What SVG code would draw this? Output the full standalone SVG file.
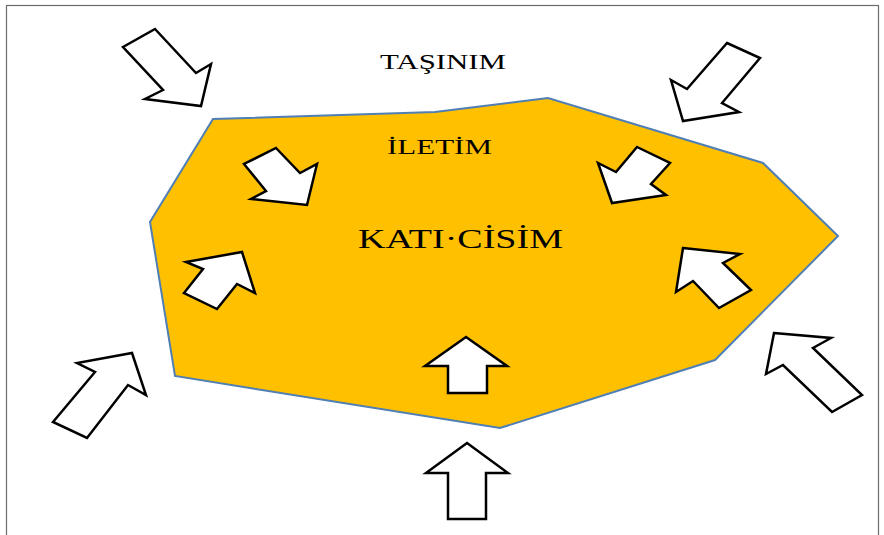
<svg xmlns="http://www.w3.org/2000/svg" width="884" height="535" viewBox="0 0 884 535">
<style>
.arr{fill:#ffffff;stroke:#000000;stroke-width:2.5;stroke-linejoin:miter}
.lbl{font-family:"Liberation Serif","Times New Roman",serif;fill:#000000}
</style>
<rect x="0" y="0" width="884" height="535" fill="#ffffff"/>
<rect x="6.5" y="5.5" width="872" height="540" fill="none" stroke="#6b6b6b" stroke-width="1.2"/>
<g id="solid">
<polygon points="213,119 435,112 548,98 763,163 838,236 715,360 500,428 175,376 150,222" fill="#ffc000" stroke="#4f7fb5" stroke-width="2"/>
</g>
<g id="connectors">
<g id="arrow-out-tl"><polygon class="arr" points="155,29 196,73 211,64 201,106 145,99 163,90 123,47"/></g>
<g id="arrow-out-tr"><polygon class="arr" points="727,43 760,58 722,103 739,112 683,121 671,80 687,89"/></g>
<g id="arrow-out-bl"><polygon class="arr" points="132,353 146,395 128,385 87,438 53,422 95,372 77,363"/></g>
<g id="arrow-out-br"><polygon class="arr" points="774,333 831,338 813,348 862,395 832,412 783,365 766,374"/></g>
<g id="arrow-out-b"><polygon class="arr" points="467,443 508,473 486,473 486,519 448,519 448,473 426,473"/></g>
<g id="arrow-in-tl"><polygon class="arr" points="276,148 300,173 317,164 307,205 251,199 266,191 244,164"/></g>
<g id="arrow-in-tr"><polygon class="arr" points="637,147 670,163 651,184 666,195 612,203 598,163 616,172"/></g>
<g id="arrow-in-l"><polygon class="arr" points="242,252 255,293 237,284 217,309 184,293 203,269 186,262"/></g>
<g id="arrow-in-r"><polygon class="arr" points="683,248 740,254 723,263 751,290 719,308 693,281 676,292"/></g>
<g id="arrow-in-b"><polygon class="arr" points="466,337 507,366 487,366 487,393 448,393 448,366 425,366"/></g>
</g>
<g id="label-tasinim"><text class="lbl" x="380" y="69" font-size="21" textLength="126" lengthAdjust="spacingAndGlyphs">TAŞINIM</text></g>
<g id="label-iletim"><text class="lbl" x="387" y="154" font-size="21" textLength="105" lengthAdjust="spacingAndGlyphs">İLETİM</text></g>
<g id="label-kati"><text class="lbl" x="358" y="248" font-size="28" textLength="205" lengthAdjust="spacingAndGlyphs">KATI·CİSİM</text></g>
</svg>
